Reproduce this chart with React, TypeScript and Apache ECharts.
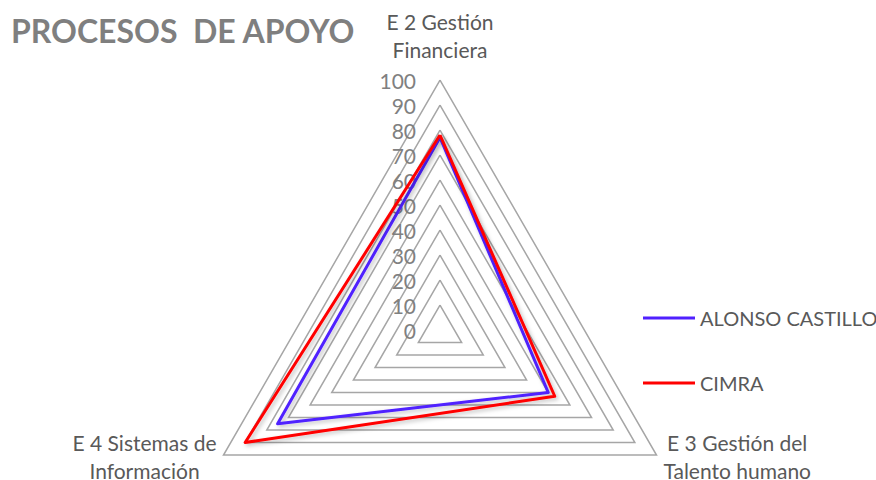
import React, { useEffect, useRef } from "react";
import * as echarts from "echarts";

const title = "PROCESOS  DE APOYO";
const indicators = ["E 2 Gestión\nFinanciera", "E 4 Sistemas de\nInformación", "E 3 Gestión del\nTalento humano"];
const seriesNames = ["ALONSO CASTILLO", "CIMRA"];
const alonsoValues = [77, 75, 50];
const cimraValues = [78, 90, 53];
const colors = ["#5020ff", "#ff0000"];
const axisMin = 0;
const axisMax = 100;
const tickCount = 10;

export default function App() {
  const ref = useRef<HTMLDivElement>(null);
  useEffect(() => {
    const chart = echarts.init(ref.current!, null, { renderer: "svg" });
    const font = "Lato, 'Open Sans', sans-serif";
    chart.setOption({
      animation: false,
      backgroundColor: "#ffffff",
      title: {
        text: title,
        left: 6,
        top: 9,
        textStyle: { fontFamily: font, fontSize: 32, fontWeight: "bold", color: "#7f7f7f" },
      },
      legend: {
        orient: "vertical",
        left: 638,
        top: 303,
        itemGap: 45,
        itemWidth: 52,
        itemHeight: 3,
        icon: "rect",
        data: seriesNames,
        textStyle: { fontFamily: font, fontSize: 20, color: "#595959" },
      },
      radar: {
        center: [440, 330],
        radius: 250,
        startAngle: 90,
        shape: "polygon",
        splitNumber: tickCount,
        axisName: {
          fontFamily: font,
          fontSize: 21,
          color: "#595959",
          lineHeight: 28,
          padding: [0, 0, 6, 0],
          formatter: (name: string) =>
            name
              .split("\n")
              .map((l) => `{c|${l}}`)
              .join("\n"),
          rich: {
            c: { fontFamily: font, fontSize: 21, color: "#595959", lineHeight: 28, align: "center" },
          },
        },
        nameGap: 8,
        axisLine: { show: false },
        axisTick: { show: false },
        axisLabel: { show: false },
        splitLine: { lineStyle: { color: "#a6a6a6", width: 1.5 } },
        splitArea: { show: false },
        indicator: indicators.map((name, i) => ({
          name,
          min: axisMin,
          max: axisMax,
          ...(i === 0
            ? {
                axisLabel: {
                  show: true,
                  fontFamily: font,
                  fontSize: 21,
                  color: "#808080",
                  margin: 24,
                  showMinLabel: true,
                },
              }
            : {}),
        })),
      },
      series: [
        {
          type: "radar",
          symbol: "none",
          data: [
            {
              name: seriesNames[0],
              value: alonsoValues,
              lineStyle: { color: colors[0], width: 3, shadowColor: "rgba(0,0,0,0.25)", shadowBlur: 4, shadowOffsetX: 2, shadowOffsetY: 2 },
              itemStyle: { color: colors[0] },
            },
            {
              name: seriesNames[1],
              value: cimraValues,
              lineStyle: { color: colors[1], width: 3, shadowColor: "rgba(0,0,0,0.25)", shadowBlur: 4, shadowOffsetX: 2, shadowOffsetY: 2 },
              itemStyle: { color: colors[1] },
            },
          ],
        },
      ],
    });
    return () => chart.dispose();
  }, []);
  return <div ref={ref} style={{ position: "fixed", left: 0, top: 0, width: 876, height: 480 }} />;
}
